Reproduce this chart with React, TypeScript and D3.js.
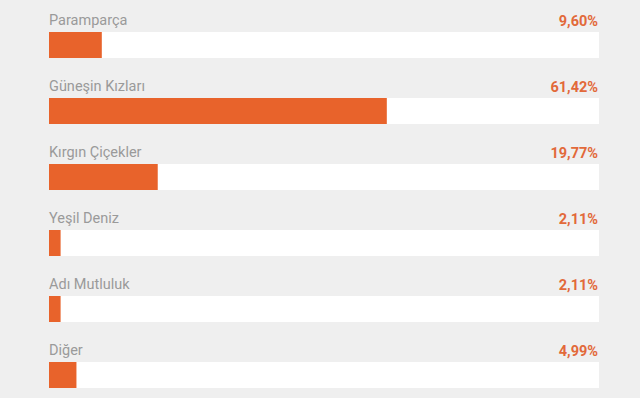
import React from "react";
import * as d3 from "d3";

const categories = ["Paramparça", "Güneşin Kızları", "Kırgın Çiçekler", "Yeşil Deniz", "Adı Mutluluk", "Diğer"];
const values = [9.6, 61.42, 19.77, 2.11, 2.11, 4.99];
const valueLabels = ["9,60%", "61,42%", "19,77%", "2,11%", "2,11%", "4,99%"];

const W = 640;
const H = 398;
const left = 49;
const right = 599;
const firstTop = 32;
const step = 66;
const barH = 26;

export default function App() {
  const x = d3.scaleLinear().domain([0, 100]).range([left, right]);
  const y = d3
    .scaleLinear()
    .domain([0, 1])
    .range([firstTop, firstTop + step]);
  return (
    <svg
      width={W}
      height={H}
      style={{ position: "absolute", left: 0, top: 0, display: "block", background: "#efefef" }}
    >
      <rect x={0} y={0} width={W} height={H} fill="#efefef" />
      {categories.map((c, i) => {
        const top = y(i);
        return (
          <g key={c}>
            <text
              x={left}
              y={top - 7}
              fontFamily="Roboto, 'Noto Sans', sans-serif"
              fontSize={14.5}
              fill="#9a9a9a"
            >
              {c}
            </text>
            <text
              x={right - 1}
              y={top - 6}
              textAnchor="end"
              fontFamily="Roboto, 'Noto Sans', sans-serif"
              fontSize={14.5}
              fontWeight="bold"
              fill="#e2693a"
            >
              {valueLabels[i]}
            </text>
            <rect x={x(0)} y={top} width={x(100) - x(0)} height={barH} fill="#ffffff" />
            <rect x={x(0)} y={top} width={x(values[i]) - x(0)} height={barH} fill="#e8632b" />
          </g>
        );
      })}
    </svg>
  );
}
